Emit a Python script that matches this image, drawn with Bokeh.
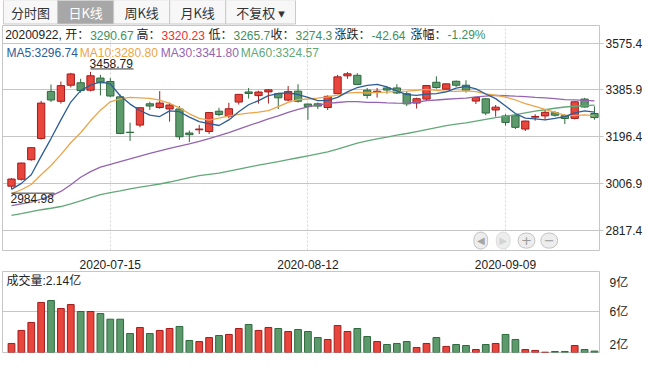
from bokeh.plotting import figure
from bokeh.layouts import column
from bokeh.models import Range1d, FixedTicker, Label, BoxAnnotation, ColumnDataSource
from bokeh.core.properties import value
from bokeh.embed import file_html
from bokeh.resources import INLINE

# ---------------- data ----------------
dates = [
    "2020-07-01", "2020-07-02", "2020-07-03", "2020-07-06", "2020-07-07", "2020-07-08", "2020-07-09",
    "2020-07-10", "2020-07-13", "2020-07-14", "2020-07-15", "2020-07-16", "2020-07-17", "2020-07-20",
    "2020-07-21", "2020-07-22", "2020-07-23", "2020-07-24", "2020-07-27", "2020-07-28", "2020-07-29",
    "2020-07-30", "2020-07-31", "2020-08-03", "2020-08-04", "2020-08-05", "2020-08-06", "2020-08-07",
    "2020-08-10", "2020-08-11", "2020-08-12", "2020-08-13", "2020-08-14", "2020-08-17", "2020-08-18",
    "2020-08-19", "2020-08-20", "2020-08-21", "2020-08-24", "2020-08-25", "2020-08-26", "2020-08-27",
    "2020-08-28", "2020-08-31", "2020-09-01", "2020-09-02", "2020-09-03", "2020-09-04", "2020-09-07",
    "2020-09-08", "2020-09-09", "2020-09-10", "2020-09-11", "2020-09-14", "2020-09-15", "2020-09-16",
    "2020-09-17", "2020-09-18", "2020-09-21", "2020-09-22",
]
opens = [2997, 3025, 3104, 3190, 3380, 3340, 3405, 3415, 3385, 3434,
         3420, 3358, 3215, 3244, 3330, 3315, 3309, 3309, 3212, 3225,
         3218, 3300, 3280, 3337, 3378, 3363, 3378, 3371, 3345, 3381,
         3329, 3330, 3315, 3371, 3443, 3445, 3385, 3377, 3394, 3394,
         3371, 3333, 3349, 3417, 3389, 3421, 3405, 3341, 3350, 3305,
         3281, 3282, 3228, 3276, 3281, 3294, 3282, 3271, 3349, 3290.67]
highs = [3030, 3092, 3153, 3342, 3408, 3420, 3455, 3431, 3458.79, 3447,
         3434, 3367, 3254, 3316, 3338, 3381, 3335, 3321, 3222, 3245,
         3296, 3314, 3334, 3370, 3394, 3383, 3389, 3375, 3402, 3409,
         3331, 3335, 3364, 3447, 3458, 3454, 3394, 3394, 3402, 3409,
         3381, 3355, 3405, 3441, 3411, 3424, 3425, 3358, 3352, 3325,
         3288, 3284, 3262, 3288, 3305, 3301, 3288, 3340, 3354, 3320.23]
lows = [2984.98, 3020, 3100, 3185, 3337, 3331, 3396, 3375, 3380, 3364,
        3358, 3207, 3180, 3235, 3305, 3310, 3258, 3184, 3175, 3208,
        3208, 3280, 3271, 3327, 3351, 3331, 3331, 3309, 3340, 3335,
        3265, 3309, 3305, 3370, 3431, 3405, 3351, 3355, 3371, 3370,
        3321, 3311, 3341, 3391, 3385, 3398, 3375, 3329, 3284, 3278,
        3242, 3228, 3220, 3262, 3266, 3278, 3248, 3267, 3315, 3265.7]
closes = [3025.98, 3090.57, 3152.81, 3332.88, 3345.34, 3403.44, 3450.59, 3383.32, 3443.29, 3414.62,
          3361.30, 3210.10, 3214.13, 3314.15, 3320.90, 3333.16, 3325.11, 3196.77, 3205.23, 3227.96,
          3294.55, 3286.82, 3310.01, 3367.97, 3371.69, 3377.56, 3386.46, 3354.04, 3379.25, 3340.29,
          3319.27, 3320.73, 3360.10, 3438.80, 3451.09, 3408.13, 3363.90, 3380.68, 3385.64, 3373.58,
          3329.74, 3350.59, 3403.81, 3395.68, 3410.61, 3404.80, 3384.98, 3355.37, 3292.59, 3316.42,
          3254.63, 3234.82, 3260.35, 3278.81, 3295.68, 3283.92, 3270.44, 3338.09, 3316.94, 3274.30]
volumes = [2.88, 4.15, 4.93, 6.88, 7.07, 6.29, 6.68, 6.00, 6.00, 5.80,
           5.25, 5.25, 3.85, 4.44, 3.85, 4.15, 4.34, 4.54, 3.17, 3.07,
           3.46, 3.66, 3.76, 4.34, 4.73, 4.15, 4.44, 4.34, 4.05, 4.24,
           4.05, 3.46, 3.27, 4.63, 4.05, 4.34, 3.56, 3.07, 2.78, 2.88,
           3.07, 2.49, 2.88, 3.46, 2.59, 2.78, 2.68, 2.29, 2.78, 2.88,
           3.76, 3.27, 2.29, 2.20, 2.03, 2.10, 2.10, 2.68, 2.29, 2.14]
ma5 = [2984.47, 3008.46, 3043.11, 3117.38, 3189.52, 3265.01, 3337.01, 3383.11, 3405.20, 3419.05,
       3410.62, 3362.53, 3328.69, 3302.86, 3284.12, 3278.49, 3301.49, 3298.02, 3276.23, 3257.65,
       3249.92, 3242.27, 3264.91, 3297.46, 3326.21, 3342.81, 3362.74, 3371.54, 3373.80, 3367.52,
       3355.86, 3342.72, 3343.93, 3355.84, 3378.00, 3395.77, 3404.40, 3408.52, 3397.89, 3382.39,
       3366.71, 3364.05, 3368.67, 3370.68, 3378.09, 3393.10, 3399.98, 3390.29, 3369.67, 3350.83,
       3320.80, 3290.77, 3271.76, 3269.01, 3264.86, 3270.72, 3277.84, 3293.39, 3301.01, 3296.74]
ma10 = [2966.79, 2982.67, 3003.79, 3043.15, 3080.92, 3124.74, 3172.74, 3213.11, 3261.29, 3304.28,
        3337.82, 3349.77, 3355.90, 3354.03, 3351.58, 3344.56, 3332.01, 3313.35, 3289.55, 3270.88,
        3264.21, 3271.88, 3281.47, 3286.85, 3291.93, 3296.37, 3302.50, 3318.23, 3335.63, 3346.86,
        3349.34, 3352.73, 3357.74, 3364.82, 3372.76, 3375.82, 3373.56, 3376.22, 3376.86, 3380.19,
        3381.24, 3384.23, 3388.60, 3384.28, 3380.24, 3379.90, 3382.01, 3379.48, 3370.18, 3364.46,
        3356.95, 3345.37, 3331.03, 3319.34, 3307.85, 3295.76, 3284.30, 3282.58, 3285.01, 3280.80]
ma30 = [2919, 2926, 2933, 2945, 2958, 2976, 3003, 3033, 3056, 3074,
        3085, 3096, 3107, 3119, 3130, 3140, 3150, 3159, 3168, 3178,
        3189.60, 3201.44, 3213.72, 3228.01, 3241.48, 3255.22, 3269.08, 3281.56, 3295.49, 3307.34,
        3317.12, 3324.79, 3331.70, 3335.23, 3338.76, 3338.91, 3336.02, 3335.94, 3334.01, 3332.65,
        3331.59, 3336.28, 3342.60, 3345.32, 3348.31, 3350.70, 3352.69, 3357.98, 3360.89, 3363.84,
        3362.51, 3360.77, 3359.12, 3356.15, 3353.61, 3350.49, 3346.62, 3346.09, 3344.02, 3341.80]
ma60 = [2879, 2886, 2894, 2902, 2908, 2915, 2926, 2938, 2951, 2963,
        2971, 2978, 2986, 2993, 2999, 3006, 3014, 3023, 3032, 3040,
        3045, 3050, 3058, 3066, 3074, 3082, 3089, 3096, 3104, 3112,
        3120, 3128, 3136, 3147, 3159, 3171, 3180, 3188, 3195, 3203,
        3210, 3218, 3226, 3234, 3242, 3248, 3253, 3260, 3267, 3274,
        3279, 3286, 3293, 3300, 3306, 3312, 3317, 3320, 3322, 3324.57]
price_ticks = [2817.4, 3006.9, 3196.4, 3385.9, 3575.4]
price_tick_labels = ["2817.4", "3006.9", "3196.4", "3385.9", "3575.4"]
date_tick_labels = ["2020-07-15", "2020-08-12", "2020-09-09"]
vol_tick_labels = ["2亿", "6亿", "9亿"]
tab_names = ["分时图", "日K线", "周K线", "月K线", "不复权 ▾"]

# ---------------- styling / layout ----------------
FONT = "Liberation Sans, Noto Sans CJK SC, DejaVu Sans"
CJK_FONT = "Noto Sans CJK SC, DejaVu Sans"
UP_FILL, UP_EDGE = "#e8453c", "#a21d1d"
DN_FILL, DN_EDGE = "#5c9a6c", "#2e6a3e"
UP_TXT, DN_TXT = "#e53333", "#3f8f5c"
C_MA = ["#2c5d96", "#eba548", "#9464b0", "#62a878"]
GRID = "#c6c6c6"
TXT = "#222222"

FIG_W = 650
X_LO, X_HI = -0.91, 59.51
FRAME_W = 597.0
Y_LO, Y_HI = 2737.3, 3646.3
P_FRAME_H = 227.0
V_LO = 2.0
V_HI = V_LO + 81.0 / 10.25


def sx(px):
    return X_LO + (px - 10.0) * (X_HI - X_LO) / FRAME_W


def sy(py):
    return Y_HI - (py - 33.0) * (Y_HI - Y_LO) / P_FRAME_H


def vy(py):
    return V_LO + (360.0 - py) * (V_HI - V_LO) / 81.0


n = len(dates)
idx = list(range(n))
is_up = [c >= o for o, c in zip(opens, closes)]
src = ColumnDataSource(dict(
    x=idx, high=highs, low=lows,
    top=[max(o, c) for o, c in zip(opens, closes)],
    bottom=[min(o, c) for o, c in zip(opens, closes)],
    fill=[UP_FILL if u else DN_FILL for u in is_up],
    edge=[UP_EDGE if u else DN_EDGE for u in is_up],
    vol=volumes,
))

# ---------------- tab bar ----------------
tab_left = [9, 68, 129, 190, 251]
tab_right = [68, 129, 190, 251, 327]
tab_fill = ["#f7f7f7", "#a7a7a7", "#f7f7f7", "#f7f7f7", "#f7f7f7"]
tab_txt = ["#333333", "#ffffff", "#333333", "#333333", "#333333"]
t = figure(width=FIG_W, height=25, x_range=Range1d(8, 658), y_range=Range1d(33, 8),
           x_axis_location=None, y_axis_location=None, toolbar_location=None,
           output_backend="svg", min_border=0)
t.grid.visible = False
t.outline_line_color = None
t.quad(left=tab_left, right=tab_right, top=7.5, bottom=31.5,
       fill_color=tab_fill, line_color="#c9c9c9")
t.text(x=[(a + b) / 2 for a, b in zip(tab_left, tab_right)], y=20, text=tab_names,
       text_align="center", text_baseline="middle", text_font=value(CJK_FONT),
       text_font_size="13px", text_color=tab_txt)

# ---------------- price panel ----------------
p = figure(width=FIG_W, height=246, x_range=Range1d(X_LO, X_HI), y_range=Range1d(Y_LO, Y_HI),
           x_axis_location="below", y_axis_location="right", toolbar_location=None,
           output_backend="svg", min_border_left=2, min_border_right=51,
           min_border_top=0, min_border_bottom=19)
p.outline_line_color = GRID
date_idx = [dates.index(d) for d in date_tick_labels]
p.xgrid.ticker = FixedTicker(ticks=date_idx)
p.xgrid.grid_line_color = "#d6d6d6"
p.xgrid.grid_line_dash = "2 2"
p.ygrid.ticker = FixedTicker(ticks=price_ticks)
p.ygrid.grid_line_color = GRID

xa = p.xaxis[0]
xa.ticker = FixedTicker(ticks=date_idx)
xa.major_label_overrides = {i: d for i, d in zip(date_idx, date_tick_labels)}
xa.axis_line_color = None
xa.major_tick_line_color = None
xa.minor_tick_line_color = None
xa.major_label_standoff = 3
xa.major_label_text_font = FONT
xa.major_label_text_font_size = "12px"
xa.major_label_text_color = TXT

ya = p.yaxis[0]
ya.ticker = FixedTicker(ticks=price_ticks)
ya.major_label_overrides = {v: s for v, s in zip(price_ticks, price_tick_labels)}
ya.axis_line_color = None
ya.major_tick_out = 4
ya.major_tick_in = 0
ya.major_tick_line_color = GRID
ya.minor_tick_line_color = None
ya.major_label_standoff = 2
ya.major_label_text_font = FONT
ya.major_label_text_font_size = "12px"
ya.major_label_text_color = TXT

p.segment(x0="x", y0="low", x1="x", y1="high", line_color="edge", line_width=1, source=src)
p.vbar(x="x", width=0.74, top="top", bottom="bottom", fill_color="fill",
       line_color="edge", line_width=1, source=src)
for ser, col in zip([ma60, ma30, ma10, ma5], [C_MA[3], C_MA[2], C_MA[1], C_MA[0]]):
    p.line(idx, ser, line_color=col, line_width=1.3)

# highest / lowest markers
i_hi = highs.index(max(highs))
i_lo = lows.index(min(lows))
px_per_pt = P_FRAME_H / (Y_HI - Y_LO)
mark_len = 43.0 * (X_HI - X_LO) / FRAME_W
p.segment(x0=[i_hi], y0=[highs[i_hi] + 3 / px_per_pt], x1=[i_hi + mark_len],
          y1=[highs[i_hi] + 3 / px_per_pt], line_color="#333333", line_width=1)
p.text(x=[i_hi], y=[highs[i_hi]], text=[f"{highs[i_hi]:.2f}"], text_baseline="bottom",
       y_offset=-4, x_offset=-1, text_font=value(FONT), text_font_size="12px", text_color=TXT)
p.segment(x0=[i_lo], y0=[lows[i_lo] - 4 / px_per_pt], x1=[i_lo + mark_len],
          y1=[lows[i_lo] - 4 / px_per_pt], line_color="#333333", line_width=1)
p.text(x=[i_lo], y=[lows[i_lo]], text=[f"{lows[i_lo]:.2f}"], text_baseline="top",
       y_offset=5, x_offset=-1, text_font=value(FONT), text_font_size="12px", text_color=TXT)


def fmt(v):
    s = f"{v:.2f}"
    return s.rstrip("0").rstrip(".") if "." in s else s


def add_label(fig, x, y, text, color, align="left", size="12px", font=FONT):
    fig.add_layout(Label(x=x, y=y, text=text, text_color=color, text_align=align,
                         text_baseline="middle", text_font=font, text_font_size=size))


prev_close = closes[-2]
chg = closes[-1] - prev_close
pct = chg / prev_close * 100


def updn(v):
    return UP_TXT if v >= prev_close else DN_TXT


info_keys = [dates[-1].replace("-", "") + ", 开：", "高：", "低：", "收：", "涨跌：", "涨幅："]
info_vals = [f"{opens[-1]:.2f}", f"{highs[-1]:.2f}", fmt(lows[-1]), fmt(closes[-1]),
             f"{chg:.2f}", f"{pct:.2f}%"]
info_cols = [updn(opens[-1]), updn(highs[-1]), updn(lows[-1]), updn(closes[-1]),
             UP_TXT if chg >= 0 else DN_TXT, UP_TXT if chg >= 0 else DN_TXT]
info_x = [96.7, 168, 240, 302, 378, 454]
y_info = sy(43)
for k, v, c, x in zip(info_keys, info_vals, info_cols, info_x):
    add_label(p, sx(x), y_info, k, TXT, align="right")
    add_label(p, sx(x + 1), y_info, v, c)

ma_names = ["MA5", "MA10", "MA30", "MA60"]
ma_last = [ma5[-1], ma10[-1], ma30[-1], ma60[-1]]
ma_x = [14, 87.3, 168.3, 248.3]
for nm, v, c, x in zip(ma_names, ma_last, C_MA, ma_x):
    add_label(p, sx(x), sy(61), f"{nm}:{v:.2f}", c)

# navigation buttons
for sym, x, col, bc in zip(["◀", "▶", "+", "−"], [488.3, 510.7, 534, 556.7],
                           ["#a5a5a5", "#d4d4d4", "#9a9a9a", "#9a9a9a"],
                           ["#c2c2c2", "#dcdcdc", "#c2c2c2", "#c2c2c2"]):
    p.add_layout(Label(x=sx(x), y=sy(250), text=sym, text_align="center", text_baseline="middle",
                       text_font="DejaVu Sans", text_font_size="10px" if sym in "◀▶" else "13px",
                       text_color=col, background_fill_color="#ededed", border_line_color=bc,
                       border_radius=8, padding=3))

# outer frame pieces
p.add_layout(BoxAnnotation(left=sx(10), right=sx(658), top=sy(33), bottom=sy(300),
                           fill_color=None, line_color=GRID, line_width=1))
p.add_layout(BoxAnnotation(left=sx(10), right=sx(607), top=sy(33), bottom=sy(300),
                           fill_color=None, line_color=GRID, line_width=1))

# ---------------- volume panel ----------------
v = figure(width=FIG_W, height=87, x_range=p.x_range, y_range=Range1d(V_LO, V_HI),
           x_axis_location=None, y_axis_location="right", toolbar_location=None,
           output_backend="svg", min_border_left=2, min_border_right=51,
           min_border_top=0, min_border_bottom=6)
v.outline_line_color = GRID
v.xgrid.visible = False
vol_tick_pos = [2.75, 6.0, 8.75]
v.ygrid.ticker = FixedTicker(ticks=[6.0])
v.ygrid.grid_line_color = GRID
va = v.yaxis[0]
va.ticker = FixedTicker(ticks=vol_tick_pos)
va.major_label_overrides = {pos: s for pos, s in zip(vol_tick_pos, vol_tick_labels)}
va.axis_line_color = None
va.major_tick_line_color = None
va.minor_tick_line_color = None
va.major_label_standoff = 4
va.major_label_text_font = FONT
va.major_label_text_font_size = "12px"
va.major_label_text_color = TXT
v.vbar(x="x", width=0.68, top="vol", bottom=0, fill_color="fill", line_color="edge",
       line_width=1, source=src)
add_label(v, sx(14), vy(288), f"成交量:{volumes[-1]:.2f}亿", TXT)
v.add_layout(BoxAnnotation(left=sx(10), right=sx(658), top=vy(250), bottom=vy(365.5),
                           fill_color=None, line_color=GRID, line_width=1))

layout = column(t, p, v)
open("out.html", "w").write(file_html(layout, INLINE, "chart"))
